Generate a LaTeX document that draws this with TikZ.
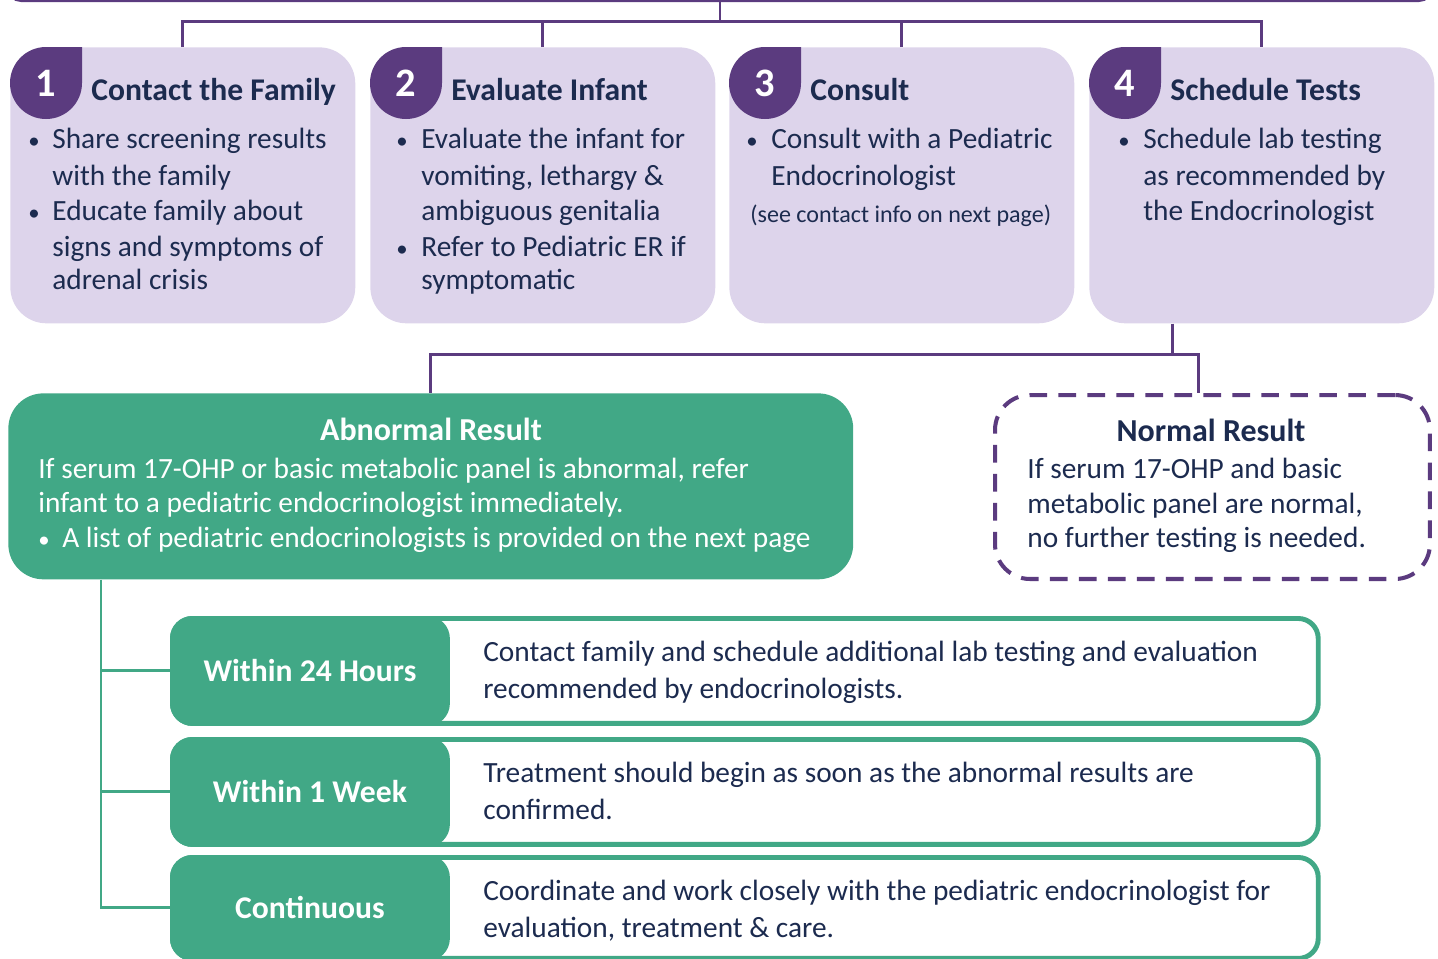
\documentclass[tikz,border=0pt]{standalone}
\usepackage{fontspec}
\setmainfont{Carlito}
\usetikzlibrary{calc}
\definecolor{cardpurple}{HTML}{5B3B7F}
\definecolor{cardfill}{HTML}{DDD4EB}
\definecolor{inkblue}{HTML}{1C2B4F}
\definecolor{resultgreen}{HTML}{41A886}
\tikzset{%
  purpleline/.style={draw=cardpurple, line width=1.7pt},
  greenline/.style={draw=resultgreen, line width=1.7pt},
  card/.style={fill=cardfill, rounded corners=0.72cm, minimum width=6.9cm, minimum height=5.52cm, anchor=north west, inner sep=0},
  cardnum/.style={text=white, font=\bfseries\fontsize{23}{27}\selectfont, inner sep=0},
  cardtitle/.style={text=inkblue, font=\bfseries\fontsize{18}{22}\selectfont, anchor=base west, inner sep=0},
  bodytext/.style={text=inkblue, font=\fontsize{16.7}{20}\selectfont, anchor=base west, inner sep=0},
  bulletmark/.style={bodytext, font=\fontsize{13}{16}\selectfont, anchor=base},
  resulttitle/.style={font=\bfseries\fontsize{18.2}{22}\selectfont, anchor=base, inner sep=0},
  rowbox/.style={draw=resultgreen, line width=2.8pt, fill=white, rounded corners=0.4cm, minimum width=22.92cm, anchor=north west, inner sep=0},
  rowlabel/.style={draw=resultgreen, line width=2.8pt, fill=resultgreen, rounded corners=0.4cm, minimum width=5.5cm, anchor=north west, inner sep=0, text=white, font=\bfseries\fontsize{18}{22}\selectfont}
}

\begin{document}
\begin{tikzpicture}[x=0.02cm, y=-0.02cm]
\useasboundingbox (0,0) rectangle (1438,958);
\clip (0,0) rectangle (1438,958);

% header box (cut by the page)
\node[purpleline, line width=2.3pt, rounded corners=0.25cm, minimum width=28.46cm, minimum height=2cm, anchor=south, inner sep=0] (hdr) at (720,2) {};

% four step cards
\foreach \i/\x/\t in {1/10/Contact the Family, 2/370/Evaluate Infant, 3/729/Consult, 4/1089/Schedule Tests} {
  \node[card] (b\i) at (\x,47) {};
  \fill[cardpurple] (\x+72,47) -- (\x+72,83) arc[start angle=0, end angle=270, radius=36] -- cycle;
  \node[cardnum] (n\i) at (\x+36,83) {\i};
  \node[cardtitle] (title\i) at (\x+81,100) {\t};
}

\coordinate (bus) at (720,21);
\draw[purpleline] (hdr.south) -- (bus);
\draw[purpleline] (b1.north) |- (bus) -| (b4.north);
\foreach \i in {2,3} {
  \draw[purpleline] (b\i.north) -- (b\i.north |- bus);
}

% card texts
\foreach \x/\y/\t [count=\k] in {
  52/148/{Share screening results}, 52/185/{with the family}, 52/220/{Educate family about}, 52/256/{signs and symptoms of}, 52/289/{adrenal crisis},
  421/148/{Evaluate the infant for}, 421/185/{vomiting, lethargy \&}, 421/220/{ambiguous genitalia}, 421/256/{Refer to Pediatric ER if}, 421/289/{symptomatic},
  771/148/{Consult with a Pediatric}, 771/185/{Endocrinologist},
  1143/148/{Schedule lab testing}, 1143/185/{as recommended by}, 1143/220/{the Endocrinologist}} {
  \node[bodytext] (line\k) at (\x,\y) {\t};
}
\foreach \x/\y [count=\k] in {34/148, 34/220, 402/148, 402/256, 752/148, 1124/148} {
  \node[bulletmark] (dot\k) at (\x,\y) {\textbullet};
}
\node[bodytext, font=\fontsize{13.7}{16}\selectfont] (seeinfo) at (750,222) {(see contact info on next page)};

% results
\node[fill=resultgreen, rounded corners=0.7cm, minimum width=16.9cm, minimum height=3.72cm, anchor=north west, inner sep=0] (abn) at (8,393) {};
\node[draw=cardpurple, line width=2.3pt, dash pattern=on 10pt off 6.5pt, rounded corners=0.7cm, minimum width=8.7cm, minimum height=3.68cm, anchor=north west, inner sep=0] (nrm) at (993,393) {};

\coordinate (fork) at (1172,354);
\coordinate (nrmtop) at (1198,393);
\draw[purpleline] (fork |- b4.south) -- (fork);
\draw[purpleline] (abn.north) |- (nrmtop |- fork) -- (nrmtop);

\node[resulttitle, text=white] (abntitle) at (431,440) {Abnormal Result};
\foreach \x/\y/\t [count=\k] in {38/478/{If serum 17-OHP or basic metabolic panel is abnormal, refer}, 38/512/{infant to a pediatric endocrinologist immediately.}, 62/547/{A list of pediatric endocrinologists is provided on the next page}} {
  \node[bodytext, text=white] (abnline\k) at (\x,\y) {\t};
}
\node[bulletmark, text=white] (abndot) at (44,547) {\textbullet};

\node[resulttitle, text=inkblue] (nrmtitle) at (1211,441) {Normal Result};
\foreach \y/\t [count=\k] in {478/{If serum 17-OHP and basic}, 513/{metabolic panel are normal,}, 547/{no further testing is needed.}} {
  \node[bodytext] (nrmline\k) at (1027,\y) {\t};
}

% timeline rows
\foreach \i/\y/\h/\lbl/\ta/\tb in {
  1/616/2.1cm/{Within 24 Hours}/{Contact family and schedule additional lab testing and evaluation}/{recommended by endocrinologists.},
  2/737/2.1cm/{Within 1 Week}/{Treatment should begin as soon as the abnormal results are}/{confirmed.},
  3/855/2.02cm/{Continuous}/{Coordinate and work closely with the pediatric endocrinologist for}/{evaluation, treatment \& care.}} {
  \node[rowbox, minimum height=\h] (row\i) at (170,\y) {};
  \node[rowlabel, minimum height=\h] (lbl\i) at (170,\y) {\lbl};
  \node[bodytext] (rowtext\i a) at (483,\y+45) {\ta};
  \node[bodytext] (rowtext\i b) at (483,\y+82) {\tb};
}

\coordinate (rail) at (101,0);
\draw[greenline] (abn.south -| rail) |- (row3.west);
\foreach \i in {1,2} {
  \draw[greenline] (row\i.west -| rail) -- (row\i.west);
}

\end{tikzpicture}
\end{document}
